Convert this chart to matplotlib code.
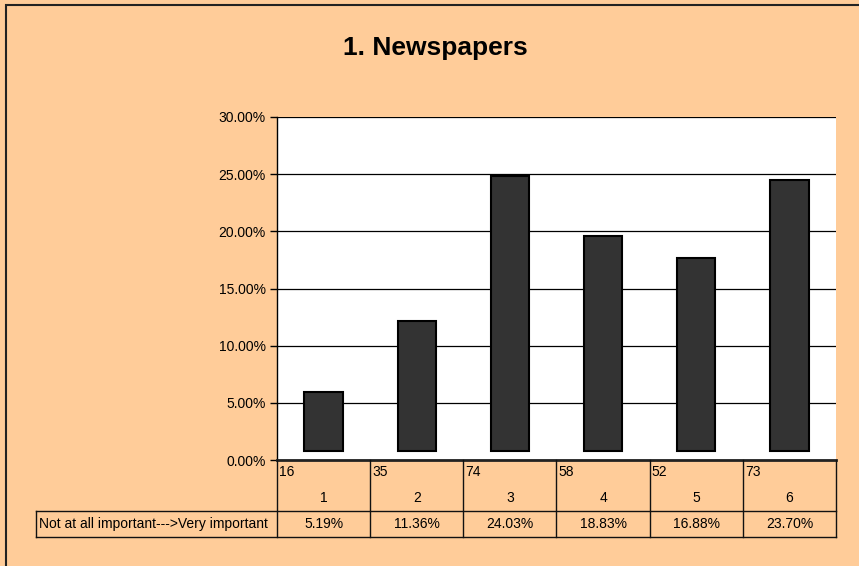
import matplotlib
matplotlib.use("Agg")
import matplotlib.pyplot as plt
from matplotlib.patches import Rectangle

# data
categories = ["1", "2", "3", "4", "5", "6"]
counts = [16, 35, 74, 58, 52, 73]
shares = [5.19, 11.36, 24.03, 18.83, 16.88, 23.70]
row_label = "Not at all important--->Very important"
title = "1. Newspapers"
yticks = [0, 5, 10, 15, 20, 25, 30]

plt.rcParams['font.family'] = ['Liberation Sans', 'DejaVu Sans']

W, H = 859, 566
bg = '#FFCC99'
fs = 10
fig = plt.figure(figsize=(W / 100, H / 100), dpi=100, facecolor=bg)

# layout in pixels
px_left, px_right, px_top, px_bottom = 277, 836, 117, 460
row1_h, row2_h = 51, 26
label_left = 36
bar_base = 0.78   # excel draws the columns slightly lifted off the axis

# outer chart border (runs off the right/bottom edge)
fig.patches.append(Rectangle((6 / W, -0.05), 1.2, (H - 4.5) / H + 0.05,
                             transform=fig.transFigure, fill=False,
                             edgecolor='#222222', linewidth=1.5))

ax = fig.add_axes([px_left / W, (H - px_bottom) / H,
                   (px_right - px_left) / W, (px_bottom - px_top) / H])
ax.set_facecolor('white')

x = list(range(len(categories)))
ax.bar(x, shares, width=0.41, bottom=bar_base, color='#333333',
       edgecolor='black', linewidth=1.5, zorder=3)

ax.set_xlim(-0.5, len(categories) - 0.5)
ax.set_ylim(0, 30)
ax.set_yticks(yticks)
ax.set_yticklabels(["%.2f%%" % v for v in yticks], fontsize=fs)
ax.yaxis.grid(True, color='black', linewidth=0.9, zorder=0)
ax.set_axisbelow(True)
ax.set_xticks([])
for s in ['top', 'right', 'bottom']:
    ax.spines[s].set_visible(False)
ax.spines['left'].set_linewidth(1.0)
ax.tick_params(axis='y', length=5, width=1, direction='out', pad=3)

fig.text(435 / W, 1 - 48 / H, title,
         fontsize=19, fontweight='bold', ha='center', va='center')

# data table under the plot, sharing the category x scale
tab = fig.add_axes([px_left / W, (H - px_bottom - row1_h - row2_h) / H,
                    (px_right - px_left) / W, (row1_h + row2_h) / H])
tab.set_xlim(ax.get_xlim())
tab.set_ylim(row1_h + row2_h, 0)
tab.axis('off')
col_w = (px_right - px_left) / len(categories)
x_lab = -0.5 - (px_left - label_left) / col_w

lc = '#111111'
tab.plot([-0.5, len(categories) - 0.5], [0, 0], color='#222222', lw=2, clip_on=False)
tab.plot([x_lab, len(categories) - 0.5], [row1_h, row1_h], color=lc, lw=1, clip_on=False)
tab.plot([x_lab, len(categories) - 0.5], [row1_h + row2_h, row1_h + row2_h], color=lc, lw=1, clip_on=False)
tab.plot([x_lab, x_lab], [row1_h, row1_h + row2_h], color=lc, lw=1, clip_on=False)
for i in range(len(categories) + 1):
    tab.plot([i - 0.5, i - 0.5], [0, row1_h + row2_h], color=lc, lw=1, clip_on=False)

for i, (c, n, p) in enumerate(zip(categories, counts, shares)):
    tab.text(i - 0.5 + 2 / col_w, 12, str(n), fontsize=fs, ha='left', va='center')
    tab.text(i, 38, c, fontsize=fs, ha='center', va='center')
    tab.text(i, row1_h + 13, "%.2f%%" % p, fontsize=fs, ha='center', va='center')
tab.text(x_lab + 3 / col_w, row1_h + 13, row_label, fontsize=fs,
         ha='left', va='center', clip_on=False)

fig.savefig("out.png", dpi=100, facecolor=bg)
